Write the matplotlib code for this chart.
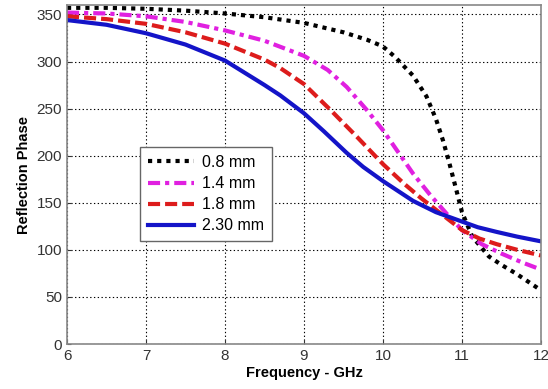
import matplotlib
matplotlib.use('Agg')
import matplotlib.pyplot as plt

plt.rcParams['font.family'] = ['Liberation Sans', 'DejaVu Sans']

# 0.8 mm
x_08 = [6, 6.5, 7, 7.5, 8, 8.5, 9, 9.5, 9.8, 10, 10.15, 10.38, 10.55, 10.67, 10.76, 10.84, 10.93,
        11.0, 11.13, 11.34, 11.5, 11.68, 11.93, 12]
y_08 = [357, 357, 356, 354, 351, 347, 341, 331, 323, 316, 305, 285, 263, 239, 216, 192, 163,
        140, 114, 93, 84, 75, 61, 57]

# 1.4 mm
x_14 = [6, 6.5, 7, 7.5, 8, 8.5, 9, 9.3, 9.54, 9.79, 10, 10.19, 10.38, 10.6, 10.81, 11, 11.25,
        11.5, 11.75, 12]
y_14 = [352, 351, 348, 342, 333, 322, 306, 291, 273, 249, 227, 204, 181, 158, 138, 121, 106,
        96, 87, 79]

# 1.8 mm
x_18 = [6, 6.5, 7, 7.5, 8, 8.5, 8.7, 9, 9.33, 9.67, 10, 10.27, 10.48, 10.74, 11, 11.22, 11.44,
        11.7, 12]
y_18 = [348, 345, 340, 331, 319, 302, 293, 276, 249, 220, 191, 170, 155, 138, 121, 112, 106,
        100, 94]

# 2.30 mm
x_23 = [6, 6.5, 7, 7.5, 8, 8.5, 8.7, 9, 9.25, 9.54, 9.75, 10, 10.38, 10.67, 11, 11.2, 11.44,
        11.7, 12]
y_23 = [344, 339, 330, 318, 301, 275, 264, 245, 226, 203, 188, 173, 152, 140, 130, 124, 119,
        114, 109]

labels = ['0.8 mm', '1.4 mm', '1.8 mm', '2.30 mm']

fig = plt.figure(figsize=(5.48, 3.89), dpi=100)
ax = fig.add_axes([67/548, 1 - 344/389, 474/548, 339/389])

ax.plot(x_08, y_08, color='black', lw=3, dashes=(1, 1.2), label=labels[0])
ax.plot(x_14, y_14, color='#e020e0', lw=3, dashes=(2.9, 1.2, 1, 1.2), label=labels[1])
ax.plot(x_18, y_18, color='#dd1c1c', lw=3, dashes=(2.9, 1.2), label=labels[2])
ax.plot(x_23, y_23, color='#1414c8', lw=3, label=labels[3])

ax.set_xlim(6, 12)
ax.set_ylim(0, 360)
ax.set_xticks(range(6, 13))
ax.set_yticks(range(0, 351, 50))
ax.grid(True, color='black', linestyle=(0, (1.2, 2.2)), linewidth=0.8)
ax.tick_params(direction='in', labelsize=11, colors='#333333', length=3)
for s in ax.spines.values():
    s.set_color('#888888')
    s.set_linewidth(1.2)

ax.set_xlabel('Frequency - GHz', fontsize=10.5, fontweight='bold', labelpad=2)
ax.set_ylabel('Reflection Phase', fontsize=10.5, fontweight='bold', labelpad=4)

leg = ax.legend(loc='upper left', bbox_to_anchor=(0.154, 0.581), borderaxespad=0,
                fontsize=11.5, fancybox=False, framealpha=1, edgecolor='#666666',
                handlelength=2.9, handletextpad=0.5, labelspacing=0.38, borderpad=0.5)
leg.get_frame().set_linewidth(1)

fig.savefig('out.png', dpi=100)
